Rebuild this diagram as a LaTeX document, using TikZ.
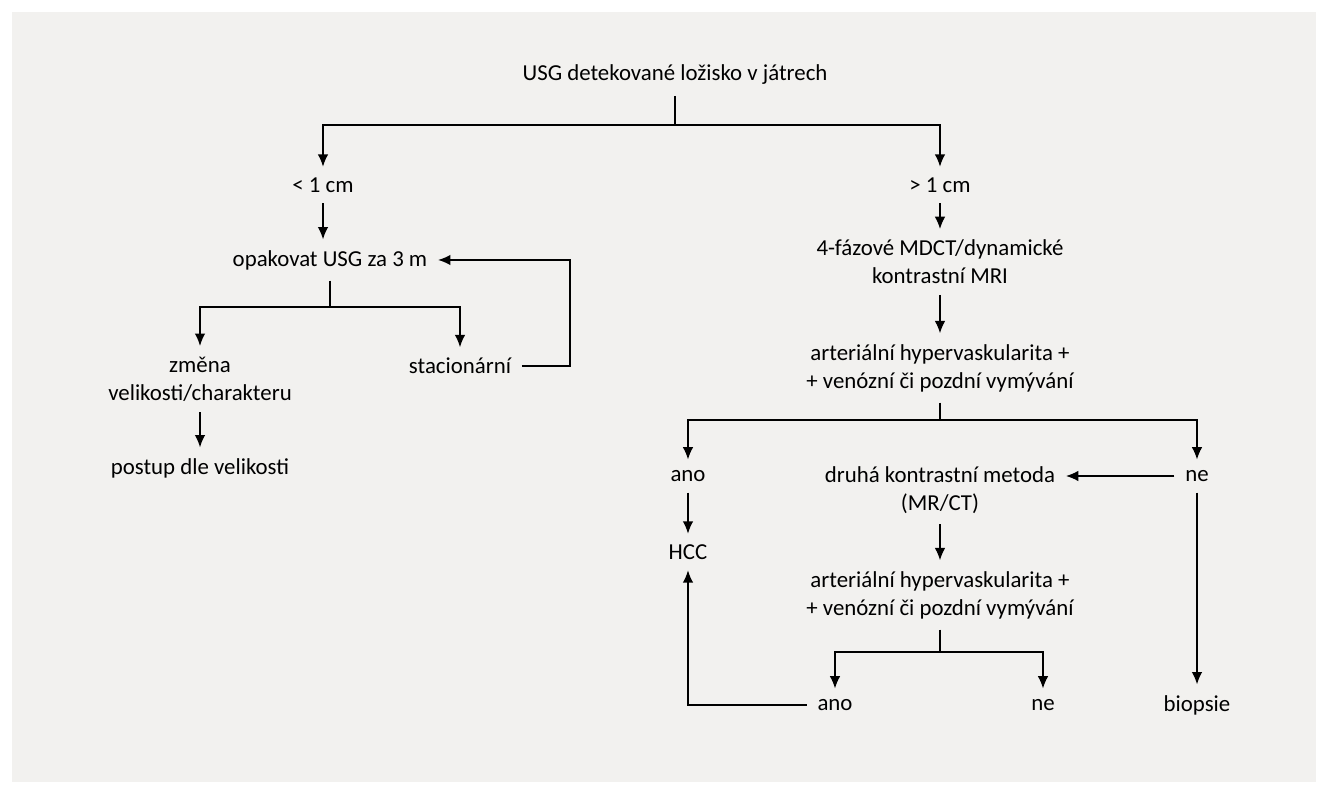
\documentclass[tikz,border=0pt]{standalone}
\usepackage{fontspec}
\setmainfont{Carlito}
\usetikzlibrary{positioning,arrows.meta}
\definecolor{panel-gray}{RGB}{242,241,239}
\begin{document}
\begin{tikzpicture}[x=0.02cm,y=-0.02cm,font=\fontsize{13}{16}\selectfont,
	txt/.style={align=center,inner sep=6pt},
	arr/.style={-{Latex[length=7pt,width=6pt]},line width=0.8pt},
	ln/.style={line width=0.8pt}]
	\fill [white] (0,0) rectangle (1330,800);							% page
	\fill [panel-gray] (12,12) rectangle (1316,782);					% panel
	\node[txt] (top) at (675,75) {USG detekované ložisko v játrech};
	\node[txt] (small) at (323,185) {< 1 cm};
	\node[txt] (big) at (940,185) {> 1 cm};
	\node[txt] (rep) at (330,260) {opakovat USG za 3 m};
	\node[txt] (chg) at (200,379) {změna\\velikosti/charakteru};
	\node[txt] (stat) at (460,366) {stacionární};
	\node[txt] (proc) at (200,468) {postup dle velikosti};
	\node[txt] (mdct) at (940,262) {4-fázové MDCT/dynamické\\kontrastní MRI};
	\node[txt] (art1) at (940,368) {arteriální hypervaskularita +\\+ venózní či pozdní vymývání};
	\node[txt] (ano1) at (688,476) {ano};
	\node[txt] (ne1) at (1197,476) {ne};
	\node[txt] (second) at (940,490) {druhá kontrastní metoda\\(MR/CT)};
	\node[txt] (hcc) at (688,552) {HCC};
	\node[txt] (art2) at (940,595) {arteriální hypervaskularita +\\+ venózní či pozdní vymývání};
	\node[txt] (ano2) at (835,705) {ano};
	\node[txt] (ne2) at (1043,705) {ne};
	\node[txt] (bio) at (1197,705) {biopsie};
	% split points
	\coordinate (s1) at (675,125);
	\coordinate (s2) at (330,307);
	\coordinate (s3) at (940,420);
	\coordinate (s4) at (940,652);
	% first split
	\draw [ln] (top) -- (s1);
	\draw [arr] (s1) -| (small.north);
	\draw [arr] (s1) -| (big.north);
	\draw [arr] (small) -- (small |- rep.north);
	\draw [arr] (big) -- (mdct);
	% left branch
	\draw [ln] (rep) -- (s2);
	\draw [arr] (s2) -| (chg.north);
	\draw [arr] (s2) -| (stat.north);
	\draw [arr] (stat.east) -- ++(48,0) |- (rep.east);
	\draw [arr] (chg) -- (proc);
	% right branch
	\draw [arr] (mdct) -- (art1);
	\draw [ln] (art1) -- (s3);
	\draw [arr] (s3) -| (ano1.north);
	\draw [arr] (s3) -| (ne1.north);
	\draw [arr] (ne1) -- (ne1 -| second.east);
	\draw [arr] (ne1) -- (bio);
	\draw [arr] (ano1) -- (hcc);
	\draw [arr] (second) -- (art2);
	\draw [ln] (art2) -- (s4);
	\draw [arr] (s4) -| (ano2.north);
	\draw [arr] (s4) -| (ne2.north);
	\draw [arr] (ano2.west) -| (hcc.south);
\end{tikzpicture}
\end{document}
